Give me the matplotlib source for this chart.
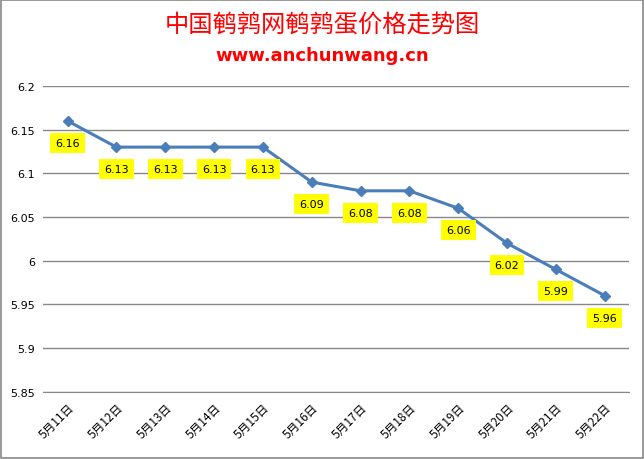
import matplotlib.pyplot as plt
from matplotlib.patches import Rectangle

plt.rcParams['font.family'] = ['Noto Sans CJK SC', 'DejaVu Sans']

dates = ['5月11日', '5月12日', '5月13日', '5月14日', '5月15日', '5月16日',
         '5月17日', '5月18日', '5月19日', '5月20日', '5月21日', '5月22日']
prices = [6.16, 6.13, 6.13, 6.13, 6.13, 6.09, 6.08, 6.08, 6.06, 6.02, 5.99, 5.96]
yticks = [5.85, 5.9, 5.95, 6, 6.05, 6.1, 6.15, 6.2]
ytick_labels = ['5.85', '5.9', '5.95', '6', '6.05', '6.1', '6.15', '6.2']

fig = plt.figure(figsize=(6.44, 4.60), dpi=100)
# outer chart border
fig.patches.append(Rectangle((0.002, 0.002), 0.996, 0.996, transform=fig.transFigure,
                             fill=False, edgecolor='#888888', linewidth=1.2))

ax = fig.add_axes([0.067, 0.146, 0.910, 0.665])
x = range(len(dates))
ax.plot(x, prices, color='#4a7ebb', linewidth=2.2, marker='D', markersize=5.5)

for i, v in enumerate(prices):
    ax.annotate(f'{v:.2f}', (i, v), xytext=(0, -22), textcoords='offset pixels',
                ha='center', va='center', fontsize=8, fontfamily='DejaVu Sans',
                bbox=dict(boxstyle='square,pad=0.45', facecolor='#ffff00', edgecolor='none'))

ax.set_xlim(-0.5, len(dates) - 0.5)
ax.set_ylim(5.85, 6.2)
ax.set_yticks(yticks)
ax.set_yticklabels(ytick_labels, fontsize=8, fontfamily='DejaVu Sans')
ax.set_xticks(list(x))
ax.set_xticklabels(dates, rotation=45, ha='right', rotation_mode='anchor', fontsize=8.5)
ax.tick_params(length=0, pad=6)
ax.grid(axis='y', color='#888888', linewidth=1)
ax.set_axisbelow(True)
for s in ['top', 'right', 'left']:
    ax.spines[s].set_visible(False)
ax.spines['bottom'].set_color('#888888')

fig.text(0.5, 0.947, '中国鹌鹑网鹌鹑蛋价格走势图', ha='center', va='center',
         color='#ff0000', fontsize=17.5)
fig.text(0.5, 0.878, 'www.anchunwang.cn', ha='center', va='center',
         color='#ff0000', fontsize=13, fontweight='bold', fontfamily='DejaVu Sans')

fig.savefig('out.png', dpi=100)
